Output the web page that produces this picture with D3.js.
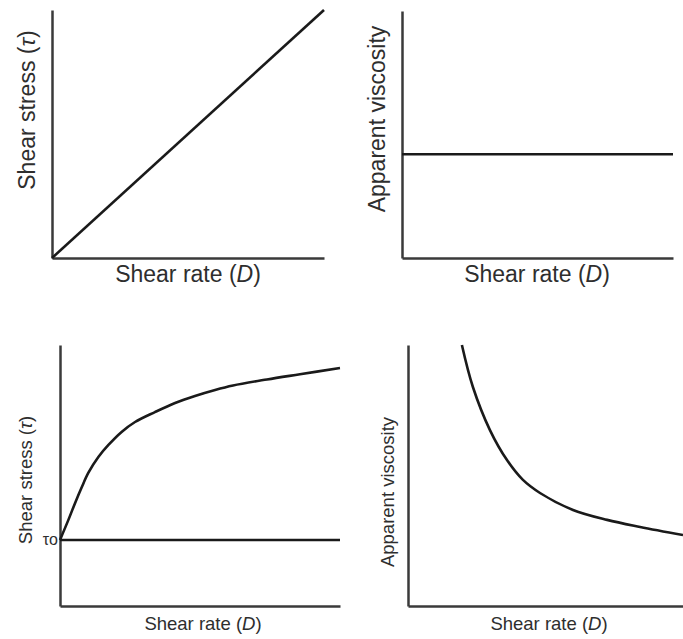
<!DOCTYPE html>
<html>
<head>
<meta charset="utf-8">
<script src="https://cdnjs.cloudflare.com/ajax/libs/d3/7.8.5/d3.min.js"></script>
<style>
body { margin: 0; background: #fff; }
svg { display: block; }
</style>
</head>
<body>
<svg id="chart" width="683" height="639"></svg>
<script>
var width = 683;
var height = 639;

// data, in arbitrary units 0..10 on each panel
var newtonStress = [[0, 0], [10, 10]];
var newtonViscosity = [[0, 4.2], [10, 4.2]];
var yieldLine = [[0, 2.53], [10, 2.53]];
var plasticStress = [[0, 2.53], [0.30, 3.30], [0.54, 3.95], [0.78, 4.56], [1.01, 5.10], [1.37, 5.71],
    [1.73, 6.17], [2.20, 6.67], [2.68, 7.05], [3.39, 7.43], [4.11, 7.78], [4.82, 8.05], [5.54, 8.28],
    [6.18, 8.45], [7.39, 8.68], [8.57, 8.88], [10, 9.12]];
var thinningViscosity = [[1.96, 10], [2.36, 8.39], [2.98, 6.74], [3.6, 5.59], [4.18, 4.83], [4.8, 4.33],
    [6.0, 3.68], [7.24, 3.3], [8.44, 3.03], [10, 2.72]];

var xLabel = 'Shear rate (';
var yLabels = ['Shear stress (', 'Apparent viscosity', 'Shear stress (', 'Apparent viscosity'];

var svg = d3.select('#chart');

// panel boxes: axis positions in pixels
var panels = [
    {x0: 52, x1: 324, y0: 258, y1: 10, font: 23, lines: [newtonStress], tau: true, ylx: 27, yly: 110, xlx: 188, xly: 282},
    {x0: 402, x1: 673, y0: 258, y1: 11, font: 23, lines: [newtonViscosity], tau: false, ylx: 377, yly: 119, xlx: 537, xly: 282},
    {x0: 60, x1: 340, y0: 606, y1: 345, font: 18.5, lines: [yieldLine, plasticStress], tau: true, ylx: 25, yly: 480, xlx: 203, xly: 630, tau0: true},
    {x0: 408, x1: 683, y0: 606, y1: 345, font: 18.5, lines: [thinningViscosity], tau: false, ylx: 387, yly: 492, xlx: 549, xly: 630}
];

panels.forEach(function (p, i) {
    var x = d3.scaleLinear().domain([0, 10]).range([p.x0, p.x1]);
    var y = d3.scaleLinear().domain([0, 10]).range([p.y0, p.y1]);
    var g = svg.append('g');

    // axes, drawn as plain lines
    g.append('g')
        .attr('transform', 'translate(0,' + p.y0 + ')')
        .call(d3.axisBottom(x).tickValues([]).tickSizeOuter(0))
        .select('.domain').attr('stroke', '#3a3a3a').attr('stroke-width', 2.5);
    g.append('g')
        .attr('transform', 'translate(' + p.x0 + ',0)')
        .call(d3.axisLeft(y).tickValues([]).tickSizeOuter(0))
        .select('.domain').attr('stroke', '#3a3a3a').attr('stroke-width', 2.5);

    var line = d3.line()
        .x(function (d) { return x(d[0]); })
        .y(function (d) { return y(d[1]); })
        .curve(d3.curveCatmullRom.alpha(0.5));

    p.lines.forEach(function (data) {
        g.append('path')
            .datum(data)
            .attr('fill', 'none')
            .attr('stroke', '#1a1a1a')
            .attr('stroke-width', 2.6)
            .attr('d', line);
    });

    // x label
    var xl = g.append('text')
        .attr('x', p.xlx)
        .attr('y', p.xly)
        .attr('text-anchor', 'middle')
        .attr('font-family', 'Liberation Sans, Arial, sans-serif')
        .attr('font-size', p.font)
        .attr('fill', '#2e2e2e');
    xl.append('tspan').text(xLabel);
    xl.append('tspan').attr('font-style', 'italic').text('D');
    xl.append('tspan').text(')');

    // y label
    var yl = g.append('text')
        .attr('transform', 'translate(' + p.ylx + ',' + p.yly + ') rotate(-90)')
        .attr('text-anchor', 'middle')
        .attr('dominant-baseline', 'central')
        .attr('font-family', 'Liberation Sans, Arial, sans-serif')
        .attr('font-size', p.font)
        .attr('fill', '#2e2e2e');
    yl.append('tspan').text(yLabels[i]);
    if (p.tau) {
        yl.append('tspan').attr('font-style', 'italic').text('τ');
        yl.append('tspan').text(')');
    }

    if (p.tau0) {
        g.append('text')
            .attr('x', p.x0 - 2)
            .attr('y', y(yieldLine[0][1]))
            .attr('text-anchor', 'end')
            .attr('dominant-baseline', 'central')
            .attr('font-family', 'Liberation Sans, Arial, sans-serif')
            .attr('font-size', 16)
            .attr('fill', '#2e2e2e')
            .text('τo');
    }
});
</script>
</body>
</html>
